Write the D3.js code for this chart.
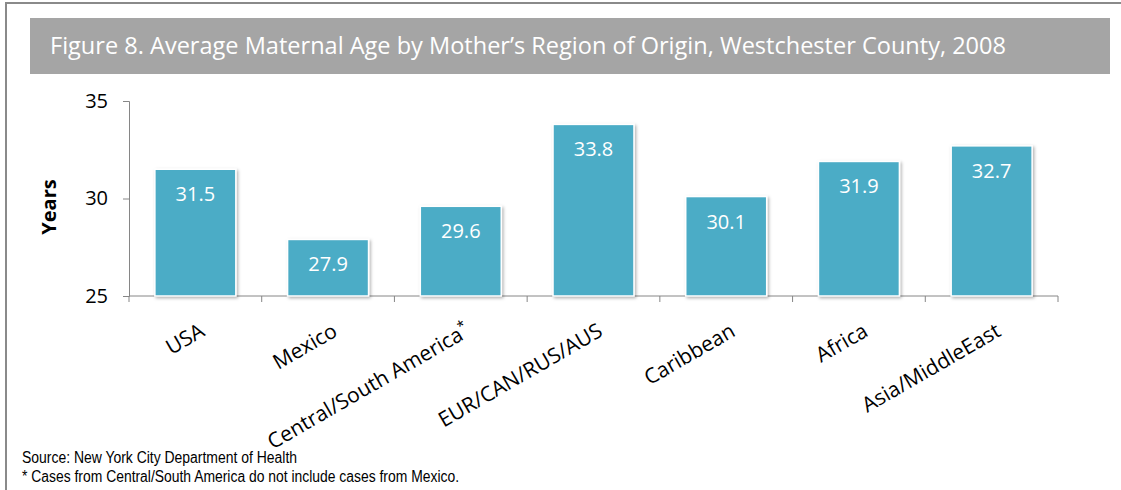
<!DOCTYPE html>
<html>
<head>
<meta charset="utf-8">
<script src="https://cdn.jsdelivr.net/npm/d3@7"></script>
<style>
  body { margin: 0; background: #fff; }
  svg { display: block; }
</style>
</head>
<body>
<div id="chart"></div>
<script>
const width = 1121;
const height = 490;

// Data
const regions = ["USA", "Mexico", "Central/South America", "EUR/CAN/RUS/AUS", "Caribbean", "Africa", "Asia/MiddleEast"];
const ages = [31.5, 27.9, 29.6, 33.8, 30.1, 31.9, 32.7];
const yTicks = [25, 30, 35];

const svg = d3.select("#chart").append("svg")
  .attr("width", width)
  .attr("height", height);

// drop shadow for bars
const defs = svg.append("defs");
const f = defs.append("filter").attr("id", "shadow")
  .attr("x", "-20%").attr("y", "-20%").attr("width", "140%").attr("height", "140%");
f.append("feDropShadow")
  .attr("dx", 1.5).attr("dy", 1.5).attr("stdDeviation", 1.5)
  .attr("flood-color", "#000").attr("flood-opacity", 0.3);

// outer frame
svg.append("rect")
  .attr("x", 6).attr("y", 3)
  .attr("width", width + 10).attr("height", height + 10)
  .attr("fill", "none")
  .attr("stroke", "#8a8a8a")
  .attr("stroke-width", 2);

// title banner
svg.append("rect")
  .attr("x", 30).attr("y", 18)
  .attr("width", 1080).attr("height", 56)
  .attr("fill", "#a5a5a5");

svg.append("text")
  .attr("x", 50).attr("y", 54)
  .attr("fill", "#fff")
  .attr("font-family", "Open Sans")
  .attr("font-size", 24)
  .attr("textLength", 956)
  .attr("lengthAdjust", "spacingAndGlyphs")
  .text("Figure 8. Average Maternal Age by Mother’s Region of Origin, Westchester County, 2008");

// scales
const x = d3.scaleBand()
  .domain(regions)
  .range([129, 1058])
  .paddingInner(0.39)
  .paddingOuter(0.195);

const y = d3.scaleLinear()
  .domain([25, 35])
  .range([296, 101]);

// y axis
const yAxis = svg.append("g")
  .attr("transform", "translate(129,0)")
  .call(d3.axisLeft(y).tickValues(yTicks).tickSize(6).tickPadding(15));
yAxis.select(".domain").attr("stroke", "#868686");
yAxis.selectAll(".tick line").attr("stroke", "#868686");
yAxis.selectAll(".tick text")
  .attr("font-family", "Open Sans")
  .attr("font-size", 20)
  .attr("fill", "#000");

// x axis: ticks at category boundaries
const xAxisG = svg.append("g").attr("class", "x-axis");
xAxisG.append("line")
  .attr("x1", 129).attr("x2", 1058)
  .attr("y1", y(25)).attr("y2", y(25))
  .attr("stroke", "#868686");
const bounds = regions.map(r => x(r) - x.step() * x.paddingInner() / 2);
bounds.push(1058);
xAxisG.selectAll("line.tk")
  .data(bounds)
  .join("line")
  .attr("class", "tk")
  .attr("x1", d => d).attr("x2", d => d)
  .attr("y1", y(25)).attr("y2", y(25) + 6)
  .attr("stroke", "#868686");

// bars
svg.append("g")
  .selectAll("rect")
  .data(regions)
  .join("rect")
  .attr("x", d => x(d))
  .attr("width", x.bandwidth())
  .attr("y", (d, i) => y(ages[i]))
  .attr("height", (d, i) => y(25) - y(ages[i]))
  .attr("fill", "#4bacc6")
  .attr("stroke", "#fff")
  .attr("stroke-width", 1.5)
  .attr("filter", "url(#shadow)");

// value labels
svg.append("g")
  .selectAll("text")
  .data(regions)
  .join("text")
  .attr("x", d => x(d) + x.bandwidth() / 2)
  .attr("y", (d, i) => y(ages[i]) + 32)
  .attr("text-anchor", "middle")
  .attr("fill", "#fff")
  .attr("font-family", "Open Sans")
  .attr("font-size", 20)
  .text((d, i) => ages[i].toFixed(1));

// category labels, rotated
const catLabel = svg.append("g")
  .selectAll("text")
  .data(regions)
  .join("text")
  .attr("transform", d => `translate(${x(d) + x.bandwidth() / 2 + 3},${322}) rotate(-30)`)
  .attr("text-anchor", "end")
  .attr("dy", "0.72em")
  .attr("fill", "#000")
  .attr("font-family", "Open Sans")
  .attr("font-size", 21)
  .text(d => d);

// asterisk on Central/South America
catLabel.filter(d => d === "Central/South America")
  .append("tspan")
  .attr("font-size", 14)
  .attr("dy", "-0.6em")
  .text("*");

// y axis title
svg.append("text")
  .attr("transform", "translate(49,207) rotate(-90)")
  .attr("text-anchor", "middle")
  .attr("dy", "0.35em")
  .attr("font-family", "Open Sans")
  .attr("font-weight", "bold")
  .attr("font-size", 20)
  .attr("fill", "#000")
  .text("Years");

// footnotes
svg.append("text")
  .attr("x", 22).attr("y", 463)
  .attr("font-family", "Liberation Sans, Arial")
  .attr("font-size", 16)
  .attr("textLength", 275)
  .attr("lengthAdjust", "spacingAndGlyphs")
  .attr("fill", "#000")
  .text("Source: New York City Department of Health");

svg.append("text")
  .attr("x", 22).attr("y", 482)
  .attr("font-family", "Liberation Sans, Arial")
  .attr("font-size", 16)
  .attr("textLength", 437)
  .attr("lengthAdjust", "spacingAndGlyphs")
  .attr("fill", "#000")
  .text("* Cases from Central/South America do not include cases from Mexico.");
</script>
</body>
</html>
